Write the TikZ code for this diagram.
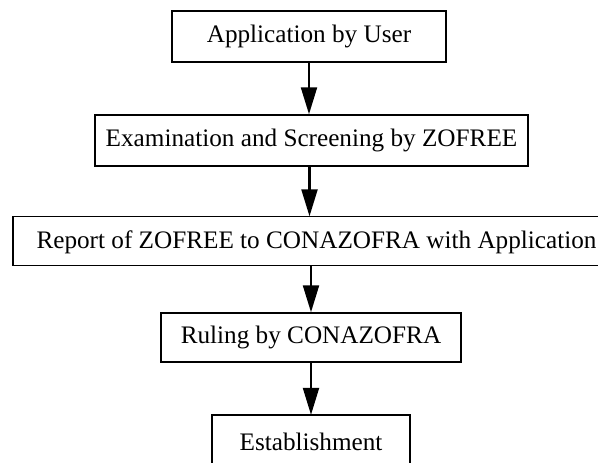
\documentclass[tikz,border=0pt]{standalone}
\usepackage{fontspec}
\setmainfont{Liberation Serif}
\usetikzlibrary{arrows.meta}
\begin{document}
\begin{tikzpicture}[x=1pt,y=-1pt,
  stepbox/.style={draw, line width=1.5pt, inner sep=0pt, font=\fontsize{25.2}{29}\selectfont},
  label/.style={inner sep=0pt, font=\fontsize{25.2}{29}\selectfont},
  frame/.style={inner sep=0pt, draw=none},
  flow/.style={line width=2.2pt, -{Triangle[length=27pt,width=16pt]}}]
\useasboundingbox (0,0) rectangle (598,463);
\node[stepbox, minimum width=274pt, minimum height=51pt] (b1) at (309,36.5) {Application by User};
\node[stepbox, minimum width=433pt, minimum height=51pt] (b2) at (311.5,140.5) {Examination and Screening by ZOFREE};
\node[frame, minimum width=585pt, minimum height=49pt] (b3) at (305.5,241) {};
\node[label] (t3) at (316.5,242) {Report of ZOFREE to CONAZOFRA with Application};
\draw[line width=1.5pt] (b3.north east) -- (b3.north west) -- (b3.south west) -- (b3.south east);
\node[stepbox, minimum width=300pt, minimum height=49pt] (b4) at (311,337.5) {Ruling by CONAZOFRA};
\node[frame, minimum width=198pt, minimum height=48pt] (b5) at (311,439) {};
\node[label] (t5) at (311,442) {Establishment};
\draw[line width=1.5pt] (b5.south west) -- (b5.north west) -- (b5.north east) -- (b5.south east);
\draw[flow] (b1.south) -- (b1.south |- b2.north);
\draw[flow] ([xshift=-2pt]b2.south) -- ([xshift=-2pt]b2.south |- b3.north);
\draw[flow] (b4.north |- b3.south) -- (b4.north);
\draw[flow] (b4.south) -- (b5.north);
\end{tikzpicture}
\end{document}
